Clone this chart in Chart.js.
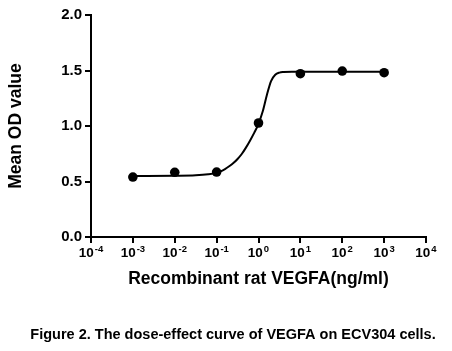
<!DOCTYPE html>
<html>
<head>
<meta charset="utf-8">
<script src="https://cdn.jsdelivr.net/npm/chart.js@4.4.1/dist/chart.umd.min.js"></script>
<style>
    body { margin: 0; background: #fff; }
    canvas { display: block; }
</style>
</head>
<body>
<canvas id="grafico-vegfa" width="452" height="351"></canvas>
<script>
// Measured points (concentration in ng/ml, mean OD)
const doses = [0.001, 0.01, 0.1, 1, 10, 100, 1000];
const odValues = [0.54, 0.583, 0.585, 1.027, 1.471, 1.495, 1.48];

// Fitted curve (log10 of dose, OD)
const curveLogDose = [-3, -2, -1.5, -1.2, -1, -0.9, -0.8, -0.7, -0.6, -0.5, -0.4, -0.3, -0.2, -0.1, 0, 0.1, 0.2, 0.3, 0.4, 0.5, 0.6, 0.8, 1.5, 3];
const curveOd = [0.55, 0.552, 0.556, 0.565, 0.578, 0.592, 0.612, 0.637, 0.666, 0.703, 0.748, 0.805, 0.87, 0.94, 1.02, 1.13, 1.28, 1.405, 1.462, 1.481, 1.486, 1.488, 1.488, 1.488];

// Axis ticks
const xTickExps = [-4, -3, -2, -1, 0, 1, 2, 3, 4];
const yTicks = [0, 0.5, 1.0, 1.5, 2.0];

const xTitle = 'Recombinant rat VEGFA(ng/ml)';
const yTitle = 'Mean OD value';
const caption = 'Figure 2. The dose-effect curve of VEGFA on ECV304 cells.';

const fonte = "'Liberation Sans', Arial, sans-serif";
Chart.defaults.font.family = fonte;
Chart.defaults.color = '#000';

// Montando os dados
let pontos = [];
for (let i = 0; i < doses.length; i++) {
    pontos.push({ x: doses[i], y: odValues[i] });
}
let curva = [];
for (let i = 0; i < curveLogDose.length; i++) {
    curva.push({ x: Math.pow(10, curveLogDose[i]), y: curveOd[i] });
}

// Rótulos 10^n do eixo x e legenda da figura
const extrasPlugin = {
    id: 'extras',
    afterDraw(chart) {
        const ctx = chart.ctx;
        const xs = chart.scales.x;
        ctx.save();
        ctx.fillStyle = '#000';
        ctx.textBaseline = 'alphabetic';
        ctx.textAlign = 'left';
        xTickExps.forEach(function (e) {
            const px = xs.getPixelForValue(Math.pow(10, e));
            ctx.font = 'bold 13.5px ' + fonte;
            const wBase = ctx.measureText('10').width;
            ctx.font = 'bold 9.5px ' + fonte;
            const sup = String(e);
            const wSup = ctx.measureText(sup).width;
            const start = px - (wBase + wSup + 1) / 2;
            ctx.font = 'bold 13.5px ' + fonte;
            ctx.fillText('10', start, 257);
            ctx.font = 'bold 9.5px ' + fonte;
            ctx.fillText(sup, start + wBase + 1, 252);
        });
        ctx.font = 'bold 14.5px ' + fonte;
        ctx.textAlign = 'center';
        ctx.textBaseline = 'middle';
        ctx.fillText(caption, 233, 335);
        ctx.restore();
    }
};

const config = {
    type: 'scatter',
    data: {
        datasets: [{
            label: 'OD',
            data: pontos,
            backgroundColor: '#000',
            borderColor: '#000',
            pointRadius: 4.8,
            pointBorderWidth: 0,
            order: 0
        }, {
            label: 'fit',
            data: curva,
            showLine: true,
            cubicInterpolationMode: 'monotone',
            borderColor: '#000',
            borderWidth: 2,
            pointRadius: 0,
            order: 1
        }]
    },
    options: {
        responsive: false,
        animation: false,
        layout: { padding: { top: 15, right: 26, left: 0, bottom: 0 } },
        plugins: {
            legend: { display: false },
            tooltip: { enabled: false }
        },
        scales: {
            x: {
                type: 'logarithmic',
                min: 1e-4,
                max: 1e4,
                afterBuildTicks: function (scale) {
                    scale.ticks = xTickExps.map(e => ({ value: Math.pow(10, e) }));
                },
                afterFit: function (scale) { scale.height = 114; },
                ticks: { callback: () => '', padding: 0 },
                grid: { drawOnChartArea: false, drawTicks: true, tickLength: 6, color: '#000', lineWidth: 2 },
                border: { display: true, color: '#000', width: 2 },
                title: {
                    display: true,
                    text: xTitle,
                    font: { size: 17.5, weight: 'bold' },
                    padding: { top: 0, bottom: 61 }
                }
            },
            y: {
                min: 0,
                max: 2,
                afterBuildTicks: function (scale) {
                    scale.ticks = yTicks.map(v => ({ value: v }));
                },
                afterFit: function (scale) { scale.width = 91; },
                ticks: {
                    callback: v => Number(v).toFixed(1),
                    font: { size: 15, weight: 'bold' },
                    padding: 3
                },
                grid: { drawOnChartArea: false, drawTicks: true, tickLength: 6, color: '#000', lineWidth: 2 },
                border: { display: true, color: '#000', width: 2 },
                title: {
                    display: true,
                    text: yTitle,
                    font: { size: 17.5, weight: 'bold' },
                    padding: { top: 6, bottom: 0 }
                }
            }
        }
    },
    plugins: [extrasPlugin]
};

let myChart = new Chart(document.getElementById('grafico-vegfa'), config);
</script>
</body>
</html>
